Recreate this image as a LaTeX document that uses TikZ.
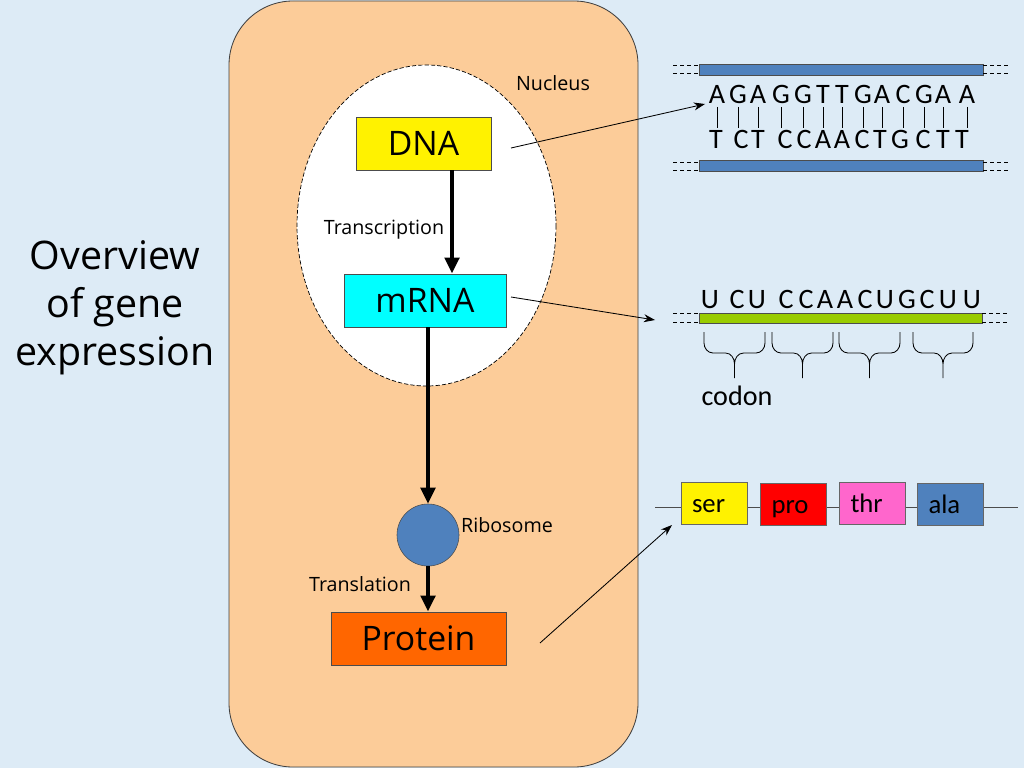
\documentclass[tikz,border=0pt]{standalone}
\usepackage{fontspec}
\setmainfont{Open Sans}
\newfontfamily\seqfont{Carlito}
\usetikzlibrary{positioning, calc, arrows.meta}

\definecolor{bgblue}{RGB}{221,235,246}
\definecolor{cellpeach}{RGB}{252,204,153}
\definecolor{strandblue}{RGB}{79,129,189}
\definecolor{mrnagreen}{RGB}{153,204,0}
\definecolor{protorange}{RGB}{255,102,0}
\definecolor{thrpink}{RGB}{255,102,204}
\definecolor{rnacyan}{RGB}{0,255,255}

\begin{document}
\begin{tikzpicture}[x=0.025cm, y=-0.025cm,
	box/.style={draw=black!70, line width=0.6pt, minimum height=1.325cm, font=\fontsize{24}{28}\selectfont},
	flow/.style={line width=2.8pt, -{Triangle[length=0.4cm, width=0.36cm]}},
	pointer/.style={line width=0.6pt, -{Stealth[length=0.28cm, width=0.2cm]}},
	lbl/.style={font=\fontsize{14}{16}\selectfont},
	letter/.style={font=\seqfont\fontsize{20}{22}\selectfont, anchor=base, inner sep=0pt},
	strand/.style={draw=black!70, line width=0.6pt},
	sticky/.style={dashed, dash pattern=on 3pt off 2pt, line width=0.5pt},
	amino/.style={draw=black!60, line width=0.6pt, minimum height=1.05cm, text width=1.1cm, text height=16pt, text depth=3pt, inner xsep=0.275cm, align=left, font=\seqfont\fontsize{19}{21}\selectfont}]
			
			\useasboundingbox (0,0) rectangle (1024,768);
			\fill [bgblue] (0,0) rectangle (1024,768);
			
			% cell and nucleus
			\draw [fill=cellpeach, draw=black!75, line width=0.6pt, rounded corners=1.6cm] (229,1) rectangle (638,767);
			\draw [fill=white, dashed, dash pattern=on 3pt off 1.5pt, line width=0.5pt] (426.5,225.5) ellipse [x radius=129.5, y radius=160.5];
			
			\node [box, fill=yellow, minimum width=3.375cm] (dna) at (423.5,143.5) {DNA};
			\node [box, fill=rnacyan, minimum width=4.05cm] (mrna) at (425,300.5) {mRNA};
			\node [draw=black!70, fill=strandblue, circle, minimum size=1.55cm, inner sep=0pt] (ribosome) at (428,535) {};
			\node [box, fill=protorange, minimum width=4.375cm] (protein) at (418.5,638.5) {Protein};
			
			\coordinate (tx) at (452,0);
			\draw [flow] (dna.south -| tx) -- (mrna.north -| tx);
			\draw [flow] (mrna.south -| ribosome) -- (ribosome.north);
			\draw [flow] (ribosome) -- (protein.north -| ribosome);
			
			\node [lbl] (nucleus) at (553,83) {Nucleus};
			\node [lbl] (transcription) at (384,230) {Transcription};
			\node [lbl] (ribolabel) at (507,525) {Ribosome};
			\node [lbl] (translation) at (360,584) {Translation};
			\node [font=\fontsize{28}{34}\selectfont, align=center] (title) at (115,308) {Overview\\of gene\\expression};
			
			% DNA double strand
			\draw [strand, fill=strandblue] (699,64) rectangle (983,75);
			\draw [strand, fill=strandblue] (699,160) rectangle (983,171);
			\draw [sticky] (673,65) -- (699,65) (673,73) -- (699,73) (983,65) -- (1010,65) (983,73) -- (1010,73);
			\draw [sticky] (673,162) -- (699,162) (673,170) -- (699,170) (983,162) -- (1010,162) (983,170) -- (1010,170);
			\foreach \x/\b [count=\i] in {717/A,738/G,758/A,781/G,803/G,823/T,842/T,863/G,882/A,903/C,924/G,943/A,967/A} {
				\node [letter] (top\i) at (\x,104) {\b};
				\draw [line width=0.5pt] (\x,107) -- (\x,128);
			}
			\foreach \x/\b [count=\i] in {716/T,741/C,758/T,785/C,804/C,823/A,842/A,862/C,880/T,900/G,923/C,943/T,962/T}
				\node [letter] (bot\i) at (\x,149) {\b};
			
			% mRNA strand and codons
			\draw [strand, fill=mrnagreen] (699,313) rectangle (982,323);
			\draw [sticky] (673,313) -- (699,313) (673,322) -- (699,322) (982,313) -- (1010,313) (982,322) -- (1010,322);
			\foreach \x/\b [count=\i] in {710/U,737/C,757/U,786/C,806/C,825/A,845/A,865/C,885/U,907/G,927/C,948/U,972/U}
				\node [letter] (rna\i) at (\x,308) {\b};
			\foreach \a/\b in {704/765, 772/833, 839/900, 913/973} {
				\pgfmathsetmacro{\m}{(\a+\b)/2}
				\draw [line width=0.6pt] (\a,332) -- (\a,343) to [out=-90, in=180] (\a+9,353) -- (\m-9,353) to [out=0, in=90] (\m,364) -- (\m,378)
					(\m,364) to [out=90, in=180] (\m+9,353) -- (\b-9,353) to [out=0, in=-90] (\b,343) -- (\b,332);
			}
			\node [letter] (codon) at (737,405) {codon};
			
			% protein chain
			\coordinate (chainL) at (655,507);
			\coordinate (chainR) at (1018,507);
			\draw [line width=0.6pt, draw=black!70] (chainL) -- (chainR);
			\node [amino, fill=yellow] (ser) at (714,503) {ser};
			\node [amino, fill=red] (pro) at (793.5,504) {pro};
			\node [amino, fill=thrpink] (thr) at (872.5,503) {thr};
			\node [amino, fill=strandblue] (ala) at (950.5,504) {ala};
			
			% pointers
			\coordinate (dnatail) at (511,148);
			\coordinate (dnahead) at (705,104);
			\coordinate (rnatail) at (511,297);
			\coordinate (rnahead) at (655,320);
			\coordinate (prottail) at (540,643);
			\coordinate (prothead) at (672,525);
			\draw [pointer] (dnatail) -- (dnahead);
			\draw [pointer] (rnatail) -- (rnahead);
			\draw [pointer] (prottail) -- (prothead);
			
\end{tikzpicture}
\end{document}
